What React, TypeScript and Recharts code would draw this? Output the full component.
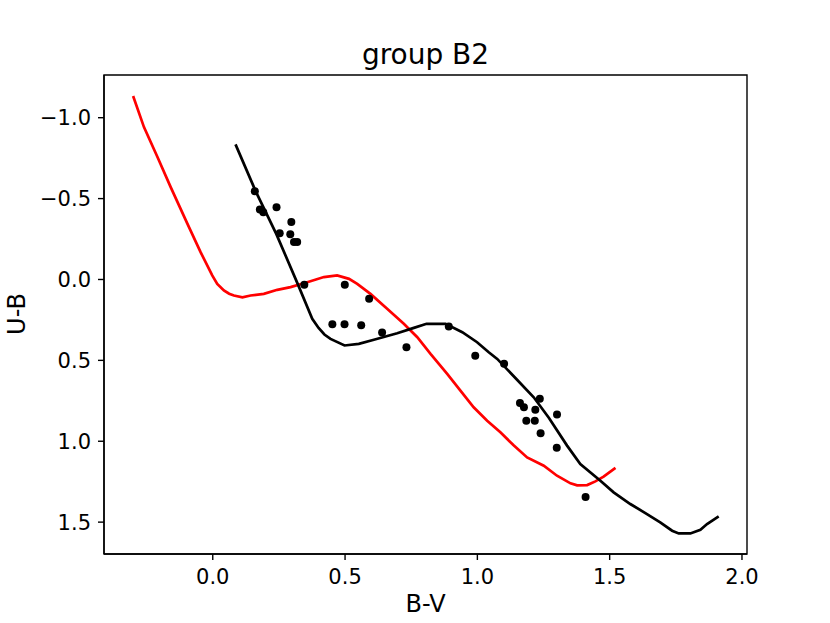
import React from "react";
import {
  ComposedChart,
  Line,
  Scatter,
  XAxis,
  YAxis,
  ReferenceArea,
} from "recharts";

// Black reference sequence (B-V, U-B)
const blackBV = [
  0.086, 0.162, 0.24, 0.321, 0.376, 0.4, 0.422, 0.445, 0.498, 0.552, 0.609,
  0.697, 0.76, 0.808, 0.88, 0.943, 0.999, 1.043, 1.075, 1.15, 1.213, 1.27,
  1.339, 1.389, 1.465, 1.515, 1.578, 1.641, 1.691, 1.736, 1.761, 1.805, 1.843,
  1.868, 1.912,
];
const blackUB = [
  -0.835, -0.546, -0.282, 0.027, 0.243, 0.3, 0.34, 0.367, 0.408, 0.398, 0.373,
  0.332, 0.299, 0.274, 0.274, 0.326, 0.388, 0.45, 0.491, 0.62, 0.728, 0.855,
  1.027, 1.141, 1.244, 1.316, 1.388, 1.45, 1.502, 1.553, 1.57, 1.57, 1.547,
  1.512, 1.465,
];

// Red reddened sequence (B-V, U-B)
const redBV = [
  -0.301, -0.26, -0.209, -0.159, -0.096, -0.046, -0.002, 0.017, 0.042, 0.062,
  0.08, 0.112, 0.143, 0.193, 0.244, 0.294, 0.357, 0.42, 0.47, 0.515, 0.546,
  0.596, 0.659, 0.722, 0.773, 0.823, 0.886, 0.936, 0.986, 1.037, 1.087, 1.137,
  1.188, 1.251, 1.301, 1.352, 1.377, 1.415, 1.446, 1.477, 1.522,
];
const redUB = [
  -1.134, -0.942, -0.757, -0.571, -0.345, -0.169, -0.025, 0.027, 0.068, 0.088,
  0.099, 0.11, 0.099, 0.089, 0.064, 0.047, 0.017, -0.015, -0.025, -0.004,
  0.027, 0.089, 0.181, 0.274, 0.357, 0.46, 0.584, 0.687, 0.79, 0.873, 0.945,
  1.025, 1.1, 1.151, 1.213, 1.26, 1.273, 1.271, 1.248, 1.219, 1.165,
];

// Observed stars of group B2
const starBV = [
  0.159, 0.178, 0.191, 0.241, 0.297, 0.253, 0.293, 0.307, 0.319, 0.346, 0.499,
  0.591, 0.452, 0.498, 0.561, 0.64, 0.732, 0.892, 0.992, 1.101, 1.161, 1.176,
  1.236, 1.219, 1.185, 1.217, 1.301, 1.239, 1.3, 1.409,
];
const starUB = [
  -0.546, -0.433, -0.416, -0.446, -0.355, -0.285, -0.28, -0.231, -0.231, 0.033,
  0.033, 0.119, 0.277, 0.277, 0.283, 0.328, 0.419, 0.291, 0.472, 0.521, 0.763,
  0.79, 0.738, 0.806, 0.874, 0.874, 0.835, 0.95, 1.04, 1.345,
];

const xTicks = [0, 0.5, 1, 1.5, 2];
const yTicks = [-1, -0.5, 0, 0.5, 1, 1.5];
const xDomain: [number, number] = [-0.411, 2.019];
const yDomain: [number, number] = [-1.264, 1.697];

const zip = (xs: number[], ys: number[]) =>
  xs.map((x, i) => ({ x, y: ys[i] }));

const blackData = zip(blackBV, blackUB);
const redData = zip(redBV, redUB);
const starData = zip(starBV, starUB);

const FONT = "DejaVu Sans, sans-serif";
const fmt = (v: number) => {
  const s = Math.abs(v).toFixed(1);
  return v < 0 ? "\u2212" + s : s;
};

export default function App() {
  return (
    <div style={{ position: "absolute", left: 0, top: 0, width: 830, height: 623, background: "#fff" }}>
      <ComposedChart
        width={830}
        height={623}
        margin={{ top: 75, right: 83, bottom: 0, left: 0 }}
      >
        <XAxis
          type="number"
          dataKey="x"
          domain={xDomain}
          ticks={xTicks}
          allowDataOverflow
          height={69}
          tickSize={6}
          tickMargin={9}
          tickFormatter={fmt}
          stroke="#000"
          tickLine={{ stroke: "#000", strokeWidth: 1.4 }}
          axisLine={{ stroke: "#000", strokeWidth: 1.4 }}
          tick={{ fill: "#000", fontSize: 21, fontFamily: FONT }}
        />
        <YAxis
          type="number"
          dataKey="y"
          domain={yDomain}
          ticks={yTicks}
          reversed
          allowDataOverflow
          width={104}
          tickSize={6}
          tickMargin={7}
          tickFormatter={fmt}
          stroke="#000"
          tickLine={{ stroke: "#000", strokeWidth: 1.4 }}
          axisLine={{ stroke: "#000", strokeWidth: 1.4 }}
          tick={{ fill: "#000", fontSize: 21, fontFamily: FONT }}
        />
        <ReferenceArea
          x1={xDomain[0]}
          x2={xDomain[1]}
          y1={yDomain[0]}
          y2={yDomain[1]}
          fill="none"
          fillOpacity={0}
          stroke="#000"
          strokeWidth={1.4}
          ifOverflow="visible"
        />
        <Line
          data={redData}
          dataKey="y"
          type="linear"
          stroke="#ff0000"
          strokeWidth={2.7}
          dot={false}
          activeDot={false}
          isAnimationActive={false}
        />
        <Line
          data={blackData}
          dataKey="y"
          type="linear"
          stroke="#000"
          strokeWidth={2.7}
          dot={false}
          activeDot={false}
          isAnimationActive={false}
        />
        <Scatter
          data={starData}
          dataKey="y"
          fill="#000"
          shape={(p: any) => <circle cx={p.cx} cy={p.cy} r={4} fill="#000" />}
          isAnimationActive={false}
        />
      </ComposedChart>
      <svg
        width={830}
        height={623}
        style={{ position: "absolute", left: 0, top: 0, pointerEvents: "none" }}
      >
        <text x={425.5} y={64} textAnchor="middle" fontSize={28} fontFamily={FONT} fill="#000">
          group B2
        </text>
        <text x={425.5} y={612} textAnchor="middle" fontSize={24} fontFamily={FONT} fill="#000">
          B-V
        </text>
        <text
          x={25}
          y={314}
          textAnchor="middle"
          fontSize={24}
          fontFamily={FONT}
          fill="#000"
          transform="rotate(-90 25 314)"
        >
          U-B
        </text>
      </svg>
    </div>
  );
}
